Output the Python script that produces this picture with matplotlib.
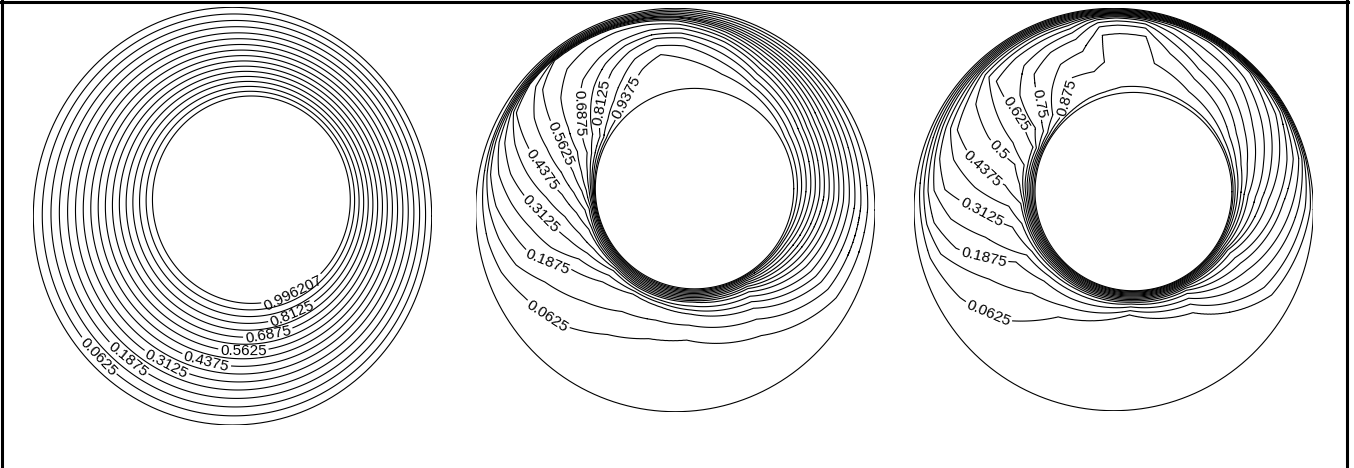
import numpy as np
import matplotlib
matplotlib.use("Agg")
import matplotlib.pyplot as plt
from matplotlib.lines import Line2D

plt.rcParams['font.family'] = ['Liberation Sans', 'DejaVu Sans']

# Isotherm levels (dimensionless temperature)
LEVELS = [0.0625, 0.125, 0.1875, 0.25, 0.3125, 0.375, 0.4375, 0.5,
          0.5625, 0.625, 0.6875, 0.75, 0.8125, 0.875, 0.9375]

# ---- Case 1: pure conduction ------------------------------------------
# gap position s of each isotherm (s = 0 outer wall, s = 1 inner wall)
case1_levels = LEVELS + [0.996207]
case1_s = [0.075, 0.148, 0.218, 0.287, 0.353, 0.418, 0.481, 0.543,
           0.603, 0.662, 0.720, 0.777, 0.833, 0.889, 0.944, 0.997]

# ---- Case 2: moderate convection ----------------------------------------
# rows: angle around the annulus (deg); columns: gap position of each level
case2_angles = [0, 30, 60, 75, 90, 100, 110, 120, 130, 140, 150, 160, 170, 180,
                190, 200, 210, 225, 240, 255, 270, 300, 330]
case2_s = [
    [0.09, 0.175, 0.25, 0.32, 0.39, 0.45, 0.51, 0.57, 0.63, 0.685, 0.74, 0.795, 0.85, 0.905, 0.955],
    [0.065, 0.13, 0.19, 0.25, 0.31, 0.37, 0.43, 0.49, 0.55, 0.61, 0.67, 0.73, 0.80, 0.87, 0.94],
    [0.04, 0.08, 0.12, 0.16, 0.20, 0.24, 0.28, 0.33, 0.38, 0.44, 0.50, 0.58, 0.66, 0.75, 0.83],
    [0.03, 0.06, 0.09, 0.115, 0.14, 0.165, 0.19, 0.22, 0.26, 0.30, 0.35, 0.42, 0.51, 0.62, 0.77],
    [0.02, 0.04, 0.06, 0.08, 0.10, 0.11, 0.12, 0.14, 0.16, 0.20, 0.25, 0.31, 0.37, 0.47, 0.64],
    [0.02, 0.035, 0.05, 0.065, 0.08, 0.09, 0.10, 0.115, 0.13, 0.17, 0.24, 0.30, 0.35, 0.44, 0.55],
    [0.018, 0.032, 0.046, 0.06, 0.072, 0.082, 0.09, 0.10, 0.11, 0.16, 0.27, 0.34, 0.42, 0.52, 0.66],
    [0.016, 0.03, 0.042, 0.054, 0.065, 0.074, 0.082, 0.09, 0.10, 0.18, 0.34, 0.43, 0.53, 0.67, 0.81],
    [0.016, 0.03, 0.04, 0.05, 0.06, 0.068, 0.075, 0.082, 0.09, 0.24, 0.43, 0.56, 0.68, 0.80, 0.91],
    [0.02, 0.033, 0.045, 0.055, 0.065, 0.073, 0.08, 0.14, 0.21, 0.40, 0.595, 0.71, 0.81, 0.89, 0.955],
    [0.03, 0.045, 0.058, 0.07, 0.085, 0.105, 0.13, 0.30, 0.46, 0.62, 0.745, 0.85, 0.92, 0.955, 0.98],
    [0.035, 0.05, 0.07, 0.10, 0.15, 0.24, 0.35, 0.52, 0.675, 0.79, 0.876, 0.915, 0.945, 0.965, 0.985],
    [0.045, 0.07, 0.10, 0.17, 0.27, 0.41, 0.558, 0.70, 0.80, 0.87, 0.92, 0.945, 0.962, 0.976, 0.99],
    [0.06, 0.11, 0.17, 0.30, 0.44, 0.59, 0.723, 0.82, 0.888, 0.925, 0.948, 0.962, 0.974, 0.984, 0.993],
    [0.08, 0.17, 0.29, 0.44, 0.60, 0.73, 0.828, 0.90, 0.935, 0.95, 0.962, 0.972, 0.98, 0.987, 0.994],
    [0.12, 0.25, 0.40, 0.56, 0.71, 0.81, 0.89, 0.915, 0.93, 0.945, 0.957, 0.968, 0.978, 0.986, 0.993],
    [0.20, 0.40, 0.61, 0.72, 0.80, 0.86, 0.90, 0.915, 0.93, 0.943, 0.955, 0.966, 0.976, 0.985, 0.993],
    [0.30, 0.55, 0.76, 0.83, 0.88, 0.90, 0.915, 0.928, 0.94, 0.95, 0.96, 0.97, 0.978, 0.986, 0.993],
    [0.46, 0.67, 0.83, 0.855, 0.875, 0.893, 0.905, 0.917, 0.929, 0.94, 0.951, 0.962, 0.972, 0.982, 0.991],
    [0.555, 0.71, 0.82, 0.85, 0.87, 0.893, 0.905, 0.917, 0.929, 0.94, 0.951, 0.962, 0.972, 0.982, 0.991],
    [0.584, 0.705, 0.795, 0.828, 0.86, 0.893, 0.905, 0.917, 0.929, 0.94, 0.951, 0.962, 0.972, 0.982, 0.991],
    [0.45, 0.60, 0.70, 0.76, 0.81, 0.85, 0.88, 0.90, 0.92, 0.935, 0.95, 0.963, 0.975, 0.985, 0.993],
    [0.18, 0.30, 0.40, 0.48, 0.55, 0.62, 0.68, 0.73, 0.78, 0.82, 0.86, 0.90, 0.93, 0.96, 0.98],
]

# ---- Case 3: strong convection ------------------------------------------
case3_angles = [0, 15, 30, 45, 60, 72, 78, 81, 90, 96, 99, 105, 115, 125, 135, 145,
                155, 165, 175, 185, 195, 210, 225, 240, 270, 300, 330]
case3_s = [
    [0.037, 0.10, 0.18, 0.26, 0.37, 0.44, 0.55, 0.63, 0.71, 0.80, 0.85, 0.89, 0.93, 0.96, 0.985],
    [0.015, 0.035, 0.06, 0.10, 0.17, 0.25, 0.35, 0.45, 0.55, 0.66, 0.76, 0.84, 0.90, 0.95, 0.98],
    [0.012, 0.024, 0.036, 0.05, 0.07, 0.10, 0.16, 0.26, 0.37, 0.50, 0.62, 0.74, 0.84, 0.92, 0.975],
    [0.01, 0.02, 0.03, 0.04, 0.05, 0.065, 0.08, 0.10, 0.20, 0.30, 0.45, 0.58, 0.72, 0.86, 0.96],
    [0.01, 0.02, 0.03, 0.04, 0.05, 0.06, 0.07, 0.085, 0.11, 0.22, 0.35, 0.48, 0.62, 0.80, 0.95],
    [0.01, 0.02, 0.03, 0.04, 0.05, 0.06, 0.07, 0.08, 0.10, 0.13, 0.20, 0.30, 0.45, 0.68, 0.94],
    [0.01, 0.02, 0.03, 0.04, 0.05, 0.06, 0.07, 0.08, 0.095, 0.115, 0.145, 0.20, 0.30, 0.62, 0.935],
    [0.01, 0.02, 0.03, 0.04, 0.05, 0.06, 0.07, 0.08, 0.09, 0.105, 0.125, 0.16, 0.21, 0.31, 0.93],
    [0.01, 0.02, 0.03, 0.04, 0.05, 0.06, 0.07, 0.08, 0.09, 0.10, 0.115, 0.15, 0.20, 0.30, 0.93],
    [0.01, 0.02, 0.03, 0.04, 0.05, 0.06, 0.07, 0.08, 0.09, 0.105, 0.125, 0.16, 0.21, 0.31, 0.93],
    [0.01, 0.02, 0.03, 0.04, 0.05, 0.06, 0.07, 0.085, 0.10, 0.12, 0.15, 0.20, 0.30, 0.62, 0.94],
    [0.011, 0.022, 0.033, 0.045, 0.057, 0.07, 0.085, 0.105, 0.13, 0.17, 0.22, 0.30, 0.45, 0.70, 0.95],
    [0.012, 0.024, 0.036, 0.048, 0.06, 0.075, 0.09, 0.11, 0.14, 0.19, 0.26, 0.34, 0.50, 0.68, 0.955],
    [0.013, 0.026, 0.039, 0.052, 0.066, 0.08, 0.10, 0.125, 0.16, 0.21, 0.32, 0.45, 0.68, 0.87, 0.97],
    [0.015, 0.03, 0.045, 0.06, 0.075, 0.09, 0.11, 0.14, 0.18, 0.26, 0.52, 0.75, 0.88, 0.95, 0.98],
    [0.018, 0.036, 0.054, 0.072, 0.10, 0.13, 0.17, 0.25, 0.45, 0.71, 0.83, 0.91, 0.95, 0.97, 0.99],
    [0.022, 0.044, 0.066, 0.09, 0.12, 0.16, 0.22, 0.50, 0.72, 0.90, 0.93, 0.95, 0.965, 0.978, 0.99],
    [0.03, 0.06, 0.09, 0.12, 0.16, 0.28, 0.45, 0.80, 0.88, 0.91, 0.93, 0.948, 0.963, 0.976, 0.99],
    [0.04, 0.075, 0.11, 0.16, 0.25, 0.50, 0.75, 0.87, 0.895, 0.915, 0.932, 0.948, 0.963, 0.976, 0.99],
    [0.06, 0.10, 0.16, 0.30, 0.557, 0.78, 0.88, 0.90, 0.915, 0.93, 0.943, 0.955, 0.967, 0.978, 0.99],
    [0.08, 0.17, 0.30, 0.55, 0.78, 0.86, 0.89, 0.905, 0.92, 0.933, 0.945, 0.957, 0.968, 0.979, 0.99],
    [0.18, 0.45, 0.70, 0.80, 0.85, 0.88, 0.90, 0.915, 0.928, 0.94, 0.951, 0.962, 0.972, 0.981, 0.99],
    [0.35, 0.65, 0.785, 0.84, 0.875, 0.90, 0.915, 0.928, 0.94, 0.95, 0.96, 0.969, 0.978, 0.986, 0.993],
    [0.63, 0.73, 0.805, 0.86, 0.89, 0.905, 0.918, 0.93, 0.94, 0.95, 0.959, 0.968, 0.977, 0.985, 0.993],
    [0.80, 0.835, 0.866, 0.89, 0.905, 0.917, 0.928, 0.938, 0.948, 0.957, 0.965, 0.973, 0.981, 0.988, 0.995],
    [0.67, 0.75, 0.805, 0.85, 0.88, 0.90, 0.915, 0.928, 0.94, 0.95, 0.959, 0.968, 0.977, 0.985, 0.993],
    [0.22, 0.33, 0.465, 0.58, 0.68, 0.76, 0.83, 0.87, 0.89, 0.91, 0.93, 0.95, 0.965, 0.978, 0.99],
]

# labelled isotherms for each case
case1_labels = [0.0625, 0.1875, 0.3125, 0.4375, 0.5625, 0.6875, 0.8125, 0.996207]
case2_labels = [0.0625, 0.1875, 0.3125, 0.4375, 0.5625, 0.6875, 0.8125, 0.9375]
case3_labels = [0.0625, 0.1875, 0.3125, 0.4375, 0.5, 0.625, 0.75, 0.875]

# ---- geometry & layout (outer radius = 1) ---------------------------------
W, H = 1354, 468
panels = [
    # outer-circle box in pixels (left, right, top, bottom), inner centre, inner radius
    dict(box=(33.3, 431.7, 7.3, 425.0), c=(0.095, 0.079), ri=0.495, inner_wall=False,
         lab=[(-0.656, -0.656), (-0.480, -0.632), (-0.288, -0.624), (-0.104, -0.592),
              (0.055, -0.552), (0.165, -0.497), (0.280, -0.425), (0.297, -0.353)]),
    dict(box=(475.7, 875.0, 8.3, 411.7), c=(0.096, 0.106), ri=0.497, inner_wall=True,
         lab=[(-0.637, -0.520), (-0.642, -0.262), (-0.667, -0.015), (-0.667, 0.198),
              (-0.567, 0.332), (-0.477, 0.480), (-0.362, 0.530), (-0.237, 0.554)]),
    dict(box=(914.0, 1313.3, 8.3, 410.7), c=(0.099, 0.089), ri=0.493, inner_wall=True,
         lab=[(-0.628, -0.516), (-0.653, -0.243), (-0.661, -0.011), (-0.661, 0.196),
              (-0.569, 0.304), (-0.486, 0.478), (-0.369, 0.528), (-0.227, 0.553)]),
]


def annulus_grid(c, ri, n_th=1441, n_s=321):
    th = np.linspace(0.0, 2 * np.pi, n_th)
    s = np.linspace(0.0, 1.0, n_s)
    rho = 1.0 - s * (1.0 - ri)
    X = s[None, :] * c[0] + rho[None, :] * np.cos(th)[:, None]
    Y = s[None, :] * c[1] + rho[None, :] * np.sin(th)[:, None]
    return np.degrees(th), s, X, Y


def field_from_isotherms(thd, s, angles, table, levels):
    A = np.asarray(angles, float)
    S = np.asarray(table, float)
    A_ext = np.concatenate([A - 360, A, A + 360])
    S_ext = np.vstack([S, S, S])
    nl = S.shape[1]
    Sk = np.column_stack([np.interp(thd, A_ext, S_ext[:, k]) for k in range(nl)])
    T = np.empty((thd.size, s.size))
    lv = np.r_[0.0, levels, 1.0]
    for i in range(thd.size):
        T[i] = np.interp(s, np.r_[0.0, Sk[i], 1.0], lv)
    return T


fig = plt.figure(figsize=(W / 100, H / 100), dpi=100)
fig.patch.set_facecolor('white')

cases = [
    ([0.0], [case1_s], case1_levels, case1_labels),
    (case2_angles, case2_s, LEVELS, case2_labels),
    (case3_angles, case3_s, LEVELS, case3_labels),
]

fmt = lambda v: f"{v:g}"
LW = 0.8

for p, (angles, table, levels, labels) in zip(panels, cases):
    l, r, t, b = p['box']
    ax = fig.add_axes([l / W, 1 - b / H, (r - l) / W, (b - t) / H])
    ax.set_xlim(-1, 1)
    ax.set_ylim(-1, 1)
    ax.axis('off')

    thd, s, X, Y = annulus_grid(p['c'], p['ri'])
    T = field_from_isotherms(thd, s, angles, table, levels)

    plain = [lv for lv in levels if lv not in labels]
    ax.contour(X, Y, T, levels=plain, colors='black', linewidths=LW)
    for lv, pos in zip(labels, p['lab']):
        cs = ax.contour(X, Y, T, levels=[lv], colors='black', linewidths=LW)
        cs.clabel(manual=[pos], inline=True, inline_spacing=2,
                  fmt=fmt, fontsize=11, colors='black')

    # walls
    tt = np.linspace(0, 2 * np.pi, 721)
    ax.plot(np.cos(tt), np.sin(tt), color='black', lw=LW)
    if p['inner_wall']:
        ax.plot(p['c'][0] + p['ri'] * np.cos(tt), p['c'][1] + p['ri'] * np.sin(tt),
                color='black', lw=LW)

# frame around the figure (left, top, right)
for xs, ys in [([1.5 / W, 1.5 / W], [0, 1]),
               ([0, 1347.5 / W], [1 - 1.5 / H, 1 - 1.5 / H]),
               ([1347 / W, 1347 / W], [0, 1])]:
    fig.add_artist(Line2D(xs, ys, transform=fig.transFigure, color='black', lw=2.2))

fig.savefig('out.png', dpi=100, facecolor='white')
